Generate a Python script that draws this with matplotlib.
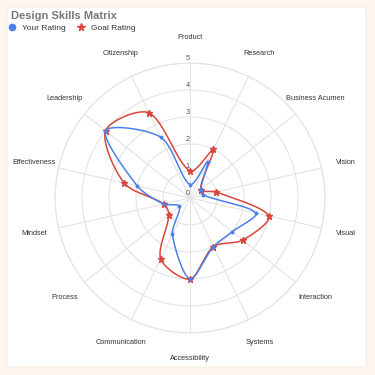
import matplotlib.pyplot as plt
import numpy as np
from matplotlib.lines import Line2D
from matplotlib.patches import FancyBboxPatch

plt.rcParams["font.family"] = ["Liberation Sans", "DejaVu Sans"]

skills = [
    "Product", "Research", "Business Acumen", "Vision", "Visual",
    "Interaction", "Systems", "Accessibility", "Communication", "Process",
    "Mindset", "Effectiveness", "Leadership", "Citizenship",
]
your_rating = [0.5, 1.5, 0.5, 0.5, 2.5, 2, 2, 3, 1.5, 0.5, 1, 2, 4, 2.5]
goal_rating = [1, 2, 0.5, 1, 3, 2.5, 2, 3, 2.5, 1, 1, 2.5, 4, 3.5]
scale_ticks = [0, 1, 2, 3, 4, 5]

BLUE = "#4a80e8"
RED = "#d9463b"
GRID = "#e3e3e3"
CREAM = "#fdf6ee"


def smooth_loop(values, tension=0.3, steps=30):
    # closed cardinal-ish spline through the radar points (cartesian space)
    vals = np.asarray(values, dtype=float)
    n = len(vals)
    ang = np.arange(n) * 2 * np.pi / n
    pts = np.column_stack([np.sin(ang) * vals, np.cos(ang) * vals])
    prev = np.roll(pts, 1, axis=0)
    nxt = np.roll(pts, -1, axis=0)
    d01 = np.hypot(*(pts - prev).T)
    d12 = np.hypot(*(nxt - pts).T)
    tot = d01 + d12
    tot[tot == 0] = 1
    fa = tension * d01 / tot
    fb = tension * d12 / tot
    cp_in = pts - fa[:, None] * (nxt - prev)
    cp_out = pts + fb[:, None] * (nxt - prev)
    t = np.linspace(0, 1, steps)[:, None]
    segs = []
    for i in range(n):
        j = (i + 1) % n
        p0, p1, p2, p3 = pts[i], cp_out[i], cp_in[j], pts[j]
        seg = ((1 - t) ** 3 * p0 + 3 * (1 - t) ** 2 * t * p1
               + 3 * (1 - t) * t ** 2 * p2 + t ** 3 * p3)
        segs.append(seg if i == n - 1 else seg[:-1])
    xy = np.vstack(segs)
    theta = np.unwrap(np.arctan2(xy[:, 0], xy[:, 1]))
    r = np.hypot(xy[:, 0], xy[:, 1])
    return theta, r, ang


fig = plt.figure(figsize=(3.75, 3.75), dpi=100)
fig.patch.set_facecolor(CREAM)
card = FancyBboxPatch(
    (7 / 375, 8 / 375), 359 / 375, 360 / 375,
    boxstyle="round,pad=0,rounding_size=0.008",
    transform=fig.transFigure, facecolor="white", edgecolor="#f3e9de", lw=0.6,
    zorder=-10,
)
fig.add_artist(card)

ax = fig.add_axes([55 / 375, 42 / 375, 270 / 375, 270 / 375], projection="polar")
ax.set_theta_zero_location("N")
ax.set_theta_direction(-1)
ax.set_facecolor("white")

th_r, r_r, ang = smooth_loop(goal_rating)
th_b, r_b, _ = smooth_loop(your_rating)

ax.plot(th_r, r_r, color=RED, lw=1.1, zorder=3)
ax.plot(ang, goal_rating, ls="none", marker="*", color=RED, markersize=4.5, zorder=4)
ax.plot(th_b, r_b, color=BLUE, lw=1.1, zorder=5)
ax.plot(ang, your_rating, ls="none", marker="o", color=BLUE, markersize=1.8, zorder=6)

ax.set_ylim(0, 5)
ax.set_xticks(ang)
ax.set_xticklabels([])
ax.set_yticks(scale_ticks[1:])
ax.set_yticklabels([])
ax.tick_params(length=0)
ax.grid(color=GRID, lw=0.8)
ax.spines["polar"].set_color(GRID)
ax.spines["polar"].set_linewidth(0.8)

for a, name in zip(ang, skills):
    ax.text(a, 5.93, name, ha="center", va="center", fontsize=5.3, color="#333")

for v in scale_ticks:
    ax.annotate(str(v), xy=(0, v), xytext=(-1.5, 3), textcoords="offset points",
                ha="center", va="center", fontsize=5.3, color="#555", zorder=7)

fig.text(11 / 375, 1 - 16 / 375, "Design Skills Matrix", fontsize=8,
         fontweight="bold", color="#777", va="center")

handles = [
    Line2D([], [], ls="none", marker="o", color=BLUE, markersize=4.5),
    Line2D([], [], ls="none", marker="*", color=RED, markersize=5.5),
]
fig.legend(handles, ["Your Rating", "Goal Rating"], loc="center left",
           bbox_to_anchor=(8 / 375, 1 - 28 / 375), ncol=2, frameon=False,
           fontsize=6, labelcolor="#333", handlelength=1, handletextpad=0.7,
           columnspacing=1.3, borderaxespad=0, borderpad=0)

fig.savefig("out.png", dpi=100, facecolor=CREAM)
